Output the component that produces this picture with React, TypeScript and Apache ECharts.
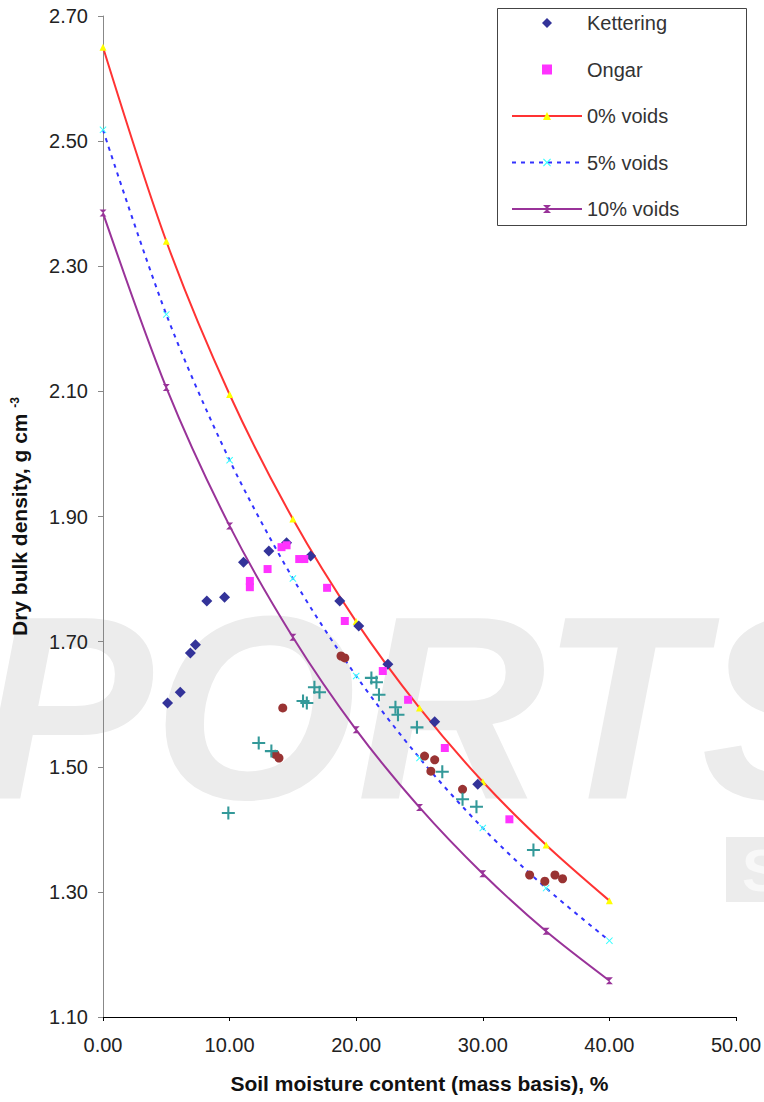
import React, { useEffect, useRef } from "react";
import * as echarts from "echarts";

// ---- data ----
const moistureSteps = [0, 5, 10, 15, 20, 25, 30, 35, 40];
const voids0 = [2.65, 2.34, 2.095, 1.896, 1.732, 1.594, 1.476, 1.375, 1.286];
const voids5 = [2.518, 2.223, 1.99, 1.801, 1.645, 1.514, 1.402, 1.306, 1.222];
const voids10 = [2.385, 2.106, 1.885, 1.707, 1.559, 1.435, 1.329, 1.237, 1.158];

const ketteringMoisture = [5.1, 6.1, 6.9, 7.3, 8.2, 9.6, 11.1, 13.1, 14.5, 16.4, 18.7, 20.2, 22.5, 26.2, 29.6];
const ketteringDensity = [1.602, 1.619, 1.682, 1.695, 1.765, 1.771, 1.827, 1.845, 1.858, 1.837, 1.765, 1.725, 1.664, 1.572, 1.472];

const ongarMoisture = [11.6, 11.6, 13.0, 14.1, 14.5, 15.5, 15.9, 17.7, 19.1, 22.1, 24.1, 27.0, 32.1];
const ongarDensity = [1.797, 1.787, 1.816, 1.851, 1.854, 1.832, 1.832, 1.786, 1.733, 1.653, 1.607, 1.53, 1.416];

const circleMoisture = [13.6, 13.9, 14.2, 18.8, 19.1, 25.4, 25.9, 26.2, 28.4, 33.7, 34.9, 35.7, 36.3];
const circleDensity = [1.52, 1.514, 1.594, 1.677, 1.674, 1.517, 1.493, 1.511, 1.464, 1.327, 1.317, 1.327, 1.321];

const crossMoisture = [9.9, 12.3, 13.3, 15.8, 16.1, 16.7, 17.1, 21.2, 21.6, 21.8, 23.1, 23.3, 24.8, 26.8, 28.4, 29.5, 34.0];
const crossDensity = [1.426, 1.538, 1.525, 1.605, 1.602, 1.627, 1.619, 1.642, 1.635, 1.615, 1.595, 1.583, 1.563, 1.492, 1.448, 1.436, 1.367];

const FONT = "'Liberation Sans', Arial, Helvetica, sans-serif";

const zip = (xs: number[], ys: number[]) => xs.map((x, i) => [x, ys[i]]);

const X_SYMBOL = "path://M0,1L1,0L5,4L9,0L10,1L6,5L10,9L9,10L5,6L1,10L0,9L4,5Z";
const PLUS_SYMBOL = "path://M4.2,0H5.8V4.2H10V5.8H5.8V10H4.2V5.8H0V4.2H4.2Z";
const HOURGLASS_SYMBOL = "path://M0,0L10,0L5,5L10,10L0,10L5,5Z";
const DIAMOND_SYMBOL = "path://M5,0L10,5L5,10L0,5Z";
const SQUARE_SYMBOL = "path://M0,0H10V10H0Z";

export default function App() {
  const ref = useRef<HTMLDivElement>(null);

  useEffect(() => {
    if (!ref.current) return;
    const chart = echarts.init(ref.current, undefined, { renderer: "svg" });

    const option: any = {
      animation: false,
      backgroundColor: "#ffffff",
      textStyle: { fontFamily: FONT },
      grid: {
        left: 103,
        right: 28,
        top: 16,
        bottom: 85,
        containLabel: false,
        outerBoundsMode: "none",
      },
      graphic: [
        {
          type: "text",
          z: -10,
          silent: true,
          x: -22,
          y: 708,
          style: {
            text: "PORTS",
            fill: "#ececec",
            font: `italic bold 262px ${FONT}`,
            verticalAlign: "middle",
            align: "left",
          },
        },
        {
          type: "rect",
          z: -10,
          silent: true,
          shape: { x: 726, y: 837, width: 40, height: 65 },
          style: { fill: "#ececec" },
        },
        {
          type: "text",
          z: -9,
          silent: true,
          x: 742,
          y: 870,
          style: {
            text: "S",
            fill: "#f8f8f8",
            font: `bold 60px ${FONT}`,
            verticalAlign: "middle",
            align: "left",
          },
        },
        {
          type: "rect",
          z: 5,
          silent: true,
          shape: { x: 497.5, y: 8.5, width: 249, height: 217 },
          style: { fill: "none", stroke: "#444444", lineWidth: 1 },
        },
      ],
      legend: {
        orient: "vertical",
        left: 511,
        top: 13,
        padding: 0,
        itemWidth: 70,
        itemHeight: 10,
        itemGap: 26.5,
        textStyle: { fontSize: 20, color: "#333333", fontFamily: FONT },
        data: [
          { name: "Kettering", icon: DIAMOND_SYMBOL },
          { name: "Ongar", icon: SQUARE_SYMBOL },
          "0% voids",
          "5% voids",
          "10% voids",
        ],
      },
      xAxis: {
        type: "value",
        min: 0,
        max: 50,
        interval: 10,
        name: "Soil moisture content (mass basis), %",
        nameLocation: "middle",
        nameGap: 56,
        nameTextStyle: { fontSize: 21, fontWeight: "bold", color: "#111111", fontFamily: FONT },
        axisLine: { lineStyle: { color: "#000000", width: 1 } },
        axisTick: { show: true, length: 4, lineStyle: { color: "#000000" } },
        axisLabel: {
          fontSize: 20,
          color: "#222222",
          margin: 18,
          fontFamily: FONT,
          formatter: (v: number) => v.toFixed(2),
        },
        splitLine: { show: false },
      },
      yAxis: {
        type: "value",
        min: 1.1,
        max: 2.7,
        interval: 0.2,
        name: "{t|Dry bulk density, g cm }{s|-3}",
        nameLocation: "middle",
        nameGap: 73,
        nameTextStyle: {
          color: "#111111",
          fontFamily: FONT,
          rich: {
            t: { fontSize: 21, fontWeight: "bold", color: "#111111", fontFamily: FONT },
            s: { fontSize: 12, fontWeight: "bold", color: "#111111", fontFamily: FONT, verticalAlign: "top" },
          },
        },
        axisLine: { show: true, lineStyle: { color: "#888888", width: 1 } },
        axisTick: { show: true, length: 5, lineStyle: { color: "#888888" } },
        axisLabel: {
          fontSize: 20,
          color: "#222222",
          margin: 15,
          fontFamily: FONT,
          formatter: (v: number) => v.toFixed(2),
        },
        splitLine: { show: false },
      },
      series: [
        {
          name: "0% voids",
          type: "line",
          smooth: 0.3,
          data: zip(moistureSteps, voids0),
          symbol: "triangle",
          symbolSize: 7,
          showAllSymbol: true,
          lineStyle: { color: "#ff3333", width: 2 },
          itemStyle: { color: "#ffff00" },
          z: 2,
        },
        {
          name: "5% voids",
          type: "line",
          smooth: 0.3,
          data: zip(moistureSteps, voids5),
          symbol: X_SYMBOL,
          symbolSize: 7,
          showAllSymbol: true,
          lineStyle: { color: "#3333ff", width: 2, type: [4, 5] },
          itemStyle: { color: "#33ffff" },
          z: 2,
        },
        {
          name: "10% voids",
          type: "line",
          smooth: 0.3,
          data: zip(moistureSteps, voids10),
          symbol: HOURGLASS_SYMBOL,
          symbolSize: 7,
          showAllSymbol: true,
          lineStyle: { color: "#993399", width: 2 },
          itemStyle: { color: "#993399" },
          z: 2,
        },
        {
          name: "Kettering",
          type: "scatter",
          data: zip(ketteringMoisture, ketteringDensity),
          symbol: DIAMOND_SYMBOL,
          symbolSize: 11,
          itemStyle: { color: "#333399", opacity: 1 },
          z: 3,
        },
        {
          name: "Ongar",
          type: "scatter",
          data: zip(ongarMoisture, ongarDensity),
          symbol: SQUARE_SYMBOL,
          symbolSize: 8,
          itemStyle: { color: "#ff33ff", opacity: 1 },
          z: 3,
        },
        {
          name: "Site 3",
          type: "scatter",
          data: zip(circleMoisture, circleDensity),
          symbol: "circle",
          symbolSize: 9,
          itemStyle: { color: "#993333", opacity: 1 },
          z: 3,
        },
        {
          name: "Site 4",
          type: "scatter",
          data: zip(crossMoisture, crossDensity),
          symbol: PLUS_SYMBOL,
          symbolSize: 13,
          itemStyle: { color: "#339999", opacity: 1 },
          z: 3,
        },
      ],
    };

    chart.setOption(option);
    return () => chart.dispose();
  }, []);

  return (
    <div
      ref={ref}
      style={{ position: "absolute", left: 0, top: 0, width: 764, height: 1102 }}
    />
  );
}
